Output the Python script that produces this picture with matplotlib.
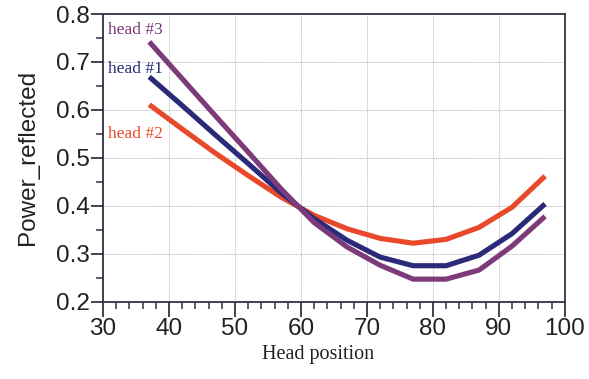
import matplotlib
matplotlib.use("Agg")
import matplotlib.pyplot as plt
from matplotlib.ticker import MultipleLocator

head_pos = [37, 42, 47, 52, 57, 62, 67, 72, 77, 82, 87, 92, 97]
head1 = [0.669, 0.609, 0.548, 0.488, 0.427, 0.373, 0.328, 0.293, 0.275, 0.275, 0.297, 0.342, 0.404]
head2 = [0.611, 0.560, 0.510, 0.463, 0.418, 0.380, 0.352, 0.332, 0.322, 0.330, 0.355, 0.397, 0.462]
head3 = [0.742, 0.665, 0.588, 0.512, 0.435, 0.365, 0.314, 0.276, 0.247, 0.247, 0.266, 0.316, 0.378]

series_labels = ["head #1", "head #2", "head #3"]
x_ticks = [30, 40, 50, 60, 70, 80, 90, 100]
y_ticks = [0.2, 0.3, 0.4, 0.5, 0.6, 0.7, 0.8]

c1 = "#2b2a78"
c2 = "#e8492b"
c3 = "#7c3a7a"

fig = plt.figure(figsize=(5.89, 3.79), dpi=100)
ax = fig.add_axes([0.175, 0.204, 0.784, 0.759])

ax.plot(head_pos, head2, color=c2, lw=3.7, solid_capstyle="butt", zorder=3)
ax.plot(head_pos, head1, color=c1, lw=3.7, solid_capstyle="butt", zorder=4)
ax.plot(head_pos, head3, color=c3, lw=3.7, solid_capstyle="butt", zorder=5)

ax.set_xlim(30, 100)
ax.set_ylim(0.2, 0.8)
ax.set_xticks(x_ticks)
ax.set_yticks(y_ticks)
ax.set_xticklabels([str(v) for v in x_ticks])
ax.set_yticklabels([f"{v:.1f}" for v in y_ticks])
ax.xaxis.set_minor_locator(MultipleLocator(2))
ax.yaxis.set_minor_locator(MultipleLocator(0.05))

ax.grid(True, which="major", color="#b8b8b8", lw=0.7, linestyle=(0, (1, 1)))
ax.set_axisbelow(True)

for s in ax.spines.values():
    s.set_color("#333344")
    s.set_linewidth(1.3)

ax.tick_params(axis="both", which="major", direction="out", colors="#333344",
               labelcolor="#222222", labelsize=17.5, width=1.3)
ax.tick_params(axis="x", which="major", length=11, pad=1)
ax.tick_params(axis="y", which="major", length=9, pad=0.5)
ax.tick_params(axis="x", which="minor", length=5, width=1.1, colors="#333344")
ax.tick_params(axis="y", which="minor", length=5, width=1.1, colors="#333344")
for lab in ax.get_xticklabels() + ax.get_yticklabels():
    lab.set_family(["Liberation Sans", "DejaVu Sans"])

ax.set_ylabel("Power_reflected", fontsize=17.5, family=["Liberation Sans", "DejaVu Sans"],
              color="#222222", labelpad=12)
ax.set_xlabel("Head position", fontsize=14.5, family=["Liberation Serif", "DejaVu Serif"],
              color="#222222")
ax.xaxis.set_label_coords(0.465, -0.185)
ax.xaxis.label.set_va("center")

ax.text(30.8, 0.767, series_labels[2], color=c3, fontsize=12.5,
        family=["Liberation Serif", "DejaVu Serif"], va="center")
ax.text(30.8, 0.686, series_labels[0], color=c1, fontsize=12.5,
        family=["Liberation Serif", "DejaVu Serif"], va="center")
ax.text(30.8, 0.550, series_labels[1], color=c2, fontsize=12.5,
        family=["Liberation Serif", "DejaVu Serif"], va="center")

fig.savefig("out.png", dpi=100)
